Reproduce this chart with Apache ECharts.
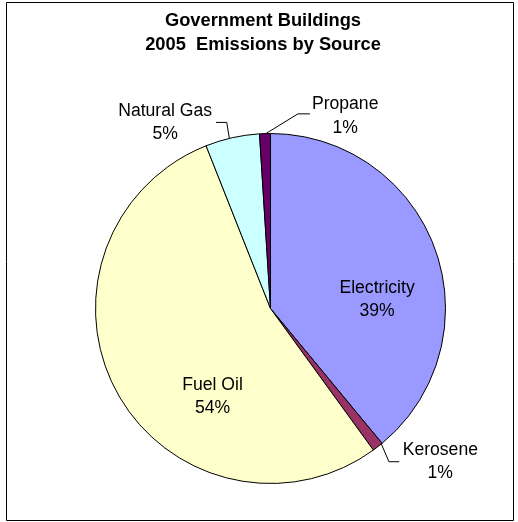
<!DOCTYPE html>
<html>
<head>
<meta charset="utf-8">
<title>Government Buildings 2005 Emissions by Source</title>
<script src="https://cdn.jsdelivr.net/npm/echarts@6/dist/echarts.min.js"></script>
<style>
  html, body { margin: 0; padding: 0; background: #fff; }
  #chart { width: 518px; height: 522px; }
</style>
</head>
<body>
<div id="chart"></div>
<script>
// Emissions share by source (percent), clockwise from 12 o'clock
const categories = ['Electricity', 'Kerosene', 'Fuel Oil', 'Natural Gas', 'Propane'];
const shares = [39, 1, 54, 5, 1];
const titleLines = ['Government Buildings', '2005  Emissions by Source'];

// Slice fills
const sliceColors = {
  'Electricity': '#9999FF',
  'Kerosene': '#993366',
  'Fuel Oil': '#FFFFCC',
  'Natural Gas': '#CCFFFF',
  'Propane': '#660066'
};

// Pie geometry (px)
const PIE_CENTER = [270.5, 308.5];
const PIE_RADIUS = 175;

// Label placement: inside labels by polar position, outside ones by a leader line
const labelSpec = {
  'Electricity': { inside: true, angle: 85.2, r: 0.611 },
  'Fuel Oil':    { inside: true, angle: 213.3, r: 0.603 },
  'Natural Gas': { angle: 346.4, elbow: [-2.6, -16], tail: -10.7, gap: 4, dy: 0 },
  'Kerosene':    { angle: 140.7, elbow: [7.6, 17.8], tail: 10.3, gap: 3.4, dy: 0 },
  'Propane':     { angle: 358.5, elbow: [32, -19.7], tail: 12, gap: 2, dy: 2.5 }
};

const FONT = '"Liberation Sans", Arial, Helvetica, sans-serif';

function polar(angleDeg, r) {
  const a = angleDeg * Math.PI / 180;
  return [PIE_CENTER[0] + r * Math.sin(a), PIE_CENTER[1] - r * Math.cos(a)];
}

const pieData = categories.map((name, i) => {
  const spec = labelSpec[name];
  return {
    name: name,
    value: shares[i],
    itemStyle: { color: sliceColors[name] },
    label: { position: spec.inside ? 'inside' : 'outside' },
    labelLine: { show: !spec.inside }
  };
});

const chart = echarts.init(document.getElementById('chart'), null, { renderer: 'canvas' });

chart.setOption({
  animation: false,
  backgroundColor: '#ffffff',
  graphic: [
    {
      type: 'rect',
      z: -10,
      shape: { x: 6.5, y: 2.5, width: 507, height: 518 },
      style: { fill: 'none', stroke: '#000', lineWidth: 1 }
    },
    {
      type: 'text',
      x: 263,
      y: 32.75,
      style: {
        text: titleLines.join('\n'),
        align: 'center',
        verticalAlign: 'middle',
        fontFamily: FONT,
        fontSize: 18.3,
        fontWeight: 'bold',
        lineHeight: 23.5,
        fill: '#000'
      }
    }
  ],
  series: [
    {
      type: 'pie',
      center: PIE_CENTER,
      radius: PIE_RADIUS,
      startAngle: 90,
      clockwise: true,
      avoidLabelOverlap: false,
      percentPrecision: 0,
      data: pieData,
      itemStyle: { borderColor: '#000', borderWidth: 1 },
      emphasis: { disabled: true },
      label: {
        show: true,
        formatter: p => p.name + '\n' + Math.round(p.percent) + '%',
        fontFamily: FONT,
        fontSize: 17.6,
        lineHeight: 23.5,
        color: '#000'
      },
      labelLine: {
        show: true,
        length: 10,
        length2: 10,
        lineStyle: { color: '#000', width: 1 }
      },
      labelLayout: function (params) {
        const spec = labelSpec[categories[params.dataIndex]];
        if (spec.inside) {
          const p = polar(spec.angle, spec.r * PIE_RADIUS);
          return { x: p[0], y: p[1], align: 'center', verticalAlign: 'middle' };
        }
        const p0 = polar(spec.angle, PIE_RADIUS);
        const p1 = [p0[0] + spec.elbow[0], p0[1] + spec.elbow[1]];
        const p2 = [p1[0] + spec.tail, p1[1]];
        const dir = spec.tail < 0 ? -1 : 1;
        const w = params.labelRect.width;
        return {
          x: p2[0] + dir * (spec.gap + w / 2),
          y: p2[1] + spec.dy,
          align: 'center',
          verticalAlign: 'middle',
          labelLinePoints: [p0, p1, p2]
        };
      }
    }
  ]
});
</script>
</body>
</html>
